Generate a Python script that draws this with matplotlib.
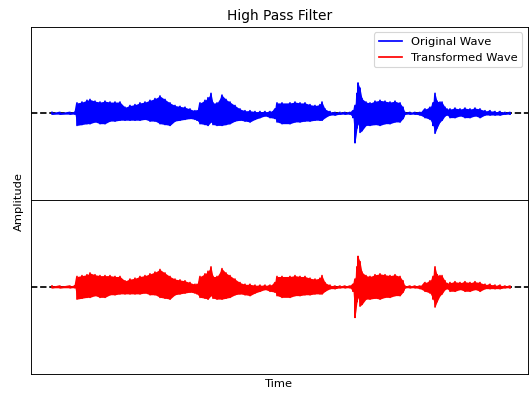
import numpy as np
import matplotlib
matplotlib.use("Agg")
import matplotlib.pyplot as plt

# envelope of the waveform (time in s, amplitude normalised)
time = [0, 0.8, 1.8, 2.3, 2.5, 3.0, 3.5, 3.8, 4.3, 4.8, 5.3, 5.8, 6.3, 6.8, 7.3, 7.8, 8.3, 8.8,
        9.3, 9.8, 10.3, 10.8, 11.3, 11.8, 12.3, 12.8, 13.3, 13.8, 14.3, 14.5, 14.8, 15.3, 15.6,
        15.9, 16.1, 16.5, 17.0, 17.4, 17.8, 18.3, 18.8, 19.3, 19.8, 20.3, 20.8, 21.3, 21.8, 22.3,
        22.5, 23.0, 23.8, 24.3, 24.8, 25.3, 25.8, 26.3, 26.8, 27.0, 27.3, 27.8, 28.3, 28.8, 29.3,
        29.8, 30.1, 30.3, 30.5, 30.6, 30.8, 31.0, 31.4, 31.8, 32.3, 32.8, 33.3, 33.8, 34.3, 34.8,
        35.1, 35.3, 35.8, 36.3, 36.8, 37.3, 37.8, 38.1, 38.3, 38.5, 38.8, 39.0, 39.3, 39.5, 39.8,
        40.3, 40.8, 41.3, 41.8, 42.3, 42.8, 43.3, 43.8, 44.3, 44.8, 45.3, 45.8]

orig_upper = [0.01, 0.01, 0.01, 0.01, 0.12, 0.13, 0.15, 0.16, 0.14, 0.13, 0.14, 0.13, 0.13, 0.13,
              0.07, 0.09, 0.10, 0.12, 0.13, 0.15, 0.17, 0.20, 0.16, 0.12, 0.09, 0.08, 0.07, 0.05,
              0.03, 0.03, 0.12, 0.15, 0.18, 0.23, 0.12, 0.12, 0.21, 0.16, 0.13, 0.09, 0.05, 0.03,
              0.03, 0.02, 0.02, 0.02, 0.02, 0.05, 0.12, 0.12, 0.12, 0.13, 0.12, 0.12, 0.10, 0.09,
              0.10, 0.13, 0.05, 0.02, 0.01, 0.01, 0.01, 0.01, 0.03, 0.09, 0.23, 0.35, 0.29, 0.17,
              0.13, 0.12, 0.14, 0.15, 0.14, 0.13, 0.14, 0.12, 0.07, 0.01, 0.01, 0.01, 0.01, 0.05,
              0.07, 0.12, 0.23, 0.14, 0.13, 0.13, 0.07, 0.05, 0.05, 0.06, 0.05, 0.06, 0.05, 0.06,
              0.05, 0.03, 0.03, 0.02, 0.02, 0.01, 0.01]
orig_lower = [0.01, 0.01, 0.01, 0.01, 0.14, 0.13, 0.12, 0.12, 0.10, 0.12, 0.12, 0.09, 0.09, 0.08,
              0.08, 0.08, 0.08, 0.08, 0.07, 0.09, 0.09, 0.12, 0.13, 0.14, 0.09, 0.08, 0.07, 0.06,
              0.07, 0.08, 0.12, 0.13, 0.14, 0.10, 0.13, 0.14, 0.14, 0.13, 0.12, 0.09, 0.08, 0.09,
              0.10, 0.07, 0.05, 0.03, 0.05, 0.06, 0.10, 0.12, 0.12, 0.10, 0.10, 0.09, 0.09, 0.08,
              0.08, 0.08, 0.05, 0.02, 0.02, 0.01, 0.01, 0.01, 0.05, 0.34, 0.17, 0.12, 0.22, 0.20,
              0.14, 0.14, 0.13, 0.14, 0.12, 0.12, 0.10, 0.10, 0.06, 0.01, 0.01, 0.01, 0.02, 0.05,
              0.07, 0.14, 0.23, 0.17, 0.10, 0.08, 0.03, 0.02, 0.05, 0.05, 0.03, 0.05, 0.05, 0.03,
              0.05, 0.02, 0.02, 0.02, 0.02, 0.01, 0.01]

# filtered wave is almost the same, a touch quieter in the slow parts
trans_upper = [0.01, 0.01, 0.01, 0.01, 0.12, 0.13, 0.14, 0.16, 0.14, 0.13, 0.13, 0.13, 0.12, 0.12,
               0.07, 0.09, 0.10, 0.12, 0.13, 0.15, 0.17, 0.20, 0.16, 0.12, 0.09, 0.08, 0.07, 0.05,
               0.03, 0.03, 0.12, 0.15, 0.18, 0.23, 0.12, 0.12, 0.21, 0.16, 0.13, 0.09, 0.05, 0.03,
               0.03, 0.02, 0.02, 0.02, 0.02, 0.05, 0.12, 0.12, 0.12, 0.13, 0.12, 0.12, 0.10, 0.09,
               0.10, 0.13, 0.05, 0.02, 0.01, 0.01, 0.01, 0.01, 0.03, 0.09, 0.23, 0.35, 0.29, 0.17,
               0.13, 0.12, 0.14, 0.15, 0.14, 0.13, 0.14, 0.12, 0.07, 0.01, 0.01, 0.01, 0.01, 0.05,
               0.07, 0.12, 0.23, 0.14, 0.13, 0.13, 0.07, 0.04, 0.05, 0.06, 0.05, 0.06, 0.05, 0.06,
               0.05, 0.03, 0.03, 0.02, 0.02, 0.01, 0.01]
trans_lower = [0.01, 0.01, 0.01, 0.01, 0.14, 0.13, 0.12, 0.12, 0.10, 0.12, 0.12, 0.09, 0.09, 0.08,
               0.08, 0.08, 0.08, 0.08, 0.07, 0.09, 0.09, 0.12, 0.13, 0.14, 0.09, 0.08, 0.07, 0.06,
               0.07, 0.08, 0.12, 0.13, 0.14, 0.10, 0.13, 0.14, 0.14, 0.13, 0.12, 0.09, 0.08, 0.09,
               0.10, 0.07, 0.05, 0.03, 0.05, 0.06, 0.10, 0.12, 0.12, 0.10, 0.10, 0.09, 0.09, 0.08,
               0.08, 0.08, 0.05, 0.02, 0.02, 0.01, 0.01, 0.01, 0.05, 0.35, 0.17, 0.12, 0.22, 0.20,
               0.14, 0.14, 0.13, 0.14, 0.12, 0.12, 0.10, 0.10, 0.06, 0.01, 0.01, 0.01, 0.02, 0.05,
               0.07, 0.14, 0.23, 0.17, 0.10, 0.08, 0.03, 0.02, 0.05, 0.05, 0.03, 0.05, 0.05, 0.03,
               0.05, 0.02, 0.02, 0.02, 0.02, 0.01, 0.01]


def draw_wave(ax, upper, lower, color, label):
    t = np.array(time)
    up = np.array(upper)
    lo = -np.array(lower)
    # zig-zag between the envelope edges so it reads like a dense waveform
    zx = np.repeat(t, 2)
    zy = np.column_stack([up, lo]).ravel()
    ax.fill_between(t, lo, up, color=color, linewidth=0)
    line, = ax.plot(zx, zy, color=color, linewidth=1.5, label=label)
    ax.axhline(0, color="k", linestyle="--", zorder=0)
    ax.set_xlim(-2.1, 47.6)
    ax.set_ylim(-1, 1)
    ax.set_xticks([])
    ax.set_yticks([])
    return line


fig = plt.figure(figsize=(6.4, 4.77), dpi=82.66)
ax1 = fig.add_axes([0.0586, 0.4924, 0.9395, 0.4391])
ax2 = fig.add_axes([0.0586, 0.0508, 0.9395, 0.4416])

l1 = draw_wave(ax1, orig_upper, orig_lower, "blue", "Original Wave")
l2 = draw_wave(ax2, trans_upper, trans_lower, "red", "Transformed Wave")

ax1.set_title("High Pass Filter")
ax1.legend(handles=[l1, l2], loc="upper right")
ax2.set_xlabel("Time")
fig.text(0.036, 0.49, "Amplitude", rotation=90, va="center", ha="center")

fig.savefig("out.png", dpi=82.66)
